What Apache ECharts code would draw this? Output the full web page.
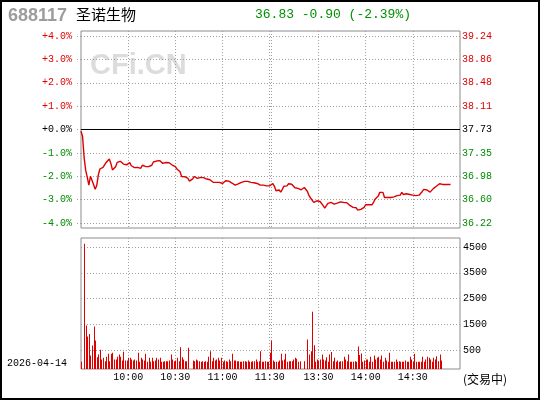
<!DOCTYPE html>
<html><head><meta charset="utf-8">
<script src="https://cdn.jsdelivr.net/npm/echarts@6/dist/echarts.min.js"></script>
<style>html,body{margin:0;padding:0;background:#fff}#c{width:540px;height:400px}</style>
</head><body><div id="c"></div>
<script>
const stockCode = '688117';
const stockName = '圣诺生物';
const quoteText = '36.83 -0.90 (-2.39%)';
const dateText = '2026-04-14';
const statusText = '(交易中)';
const watermark = 'CFi.CN';

const pctTicks = [-4, -3, -2, -1, 0, 1, 2, 3, 4];
const pctLabels = ['-4.0%', '-3.0%', '-2.0%', '-1.0%', '+0.0%', '+1.0%', '+2.0%', '+3.0%', '+4.0%'];
const priceLabels = ['36.22', '36.60', '36.98', '37.35', '37.73', '38.11', '38.48', '38.86', '39.24'];
const volTicks = [500, 1500, 2500, 3500, 4500];
const volLabels = ['500', '1500', '2500', '3500', '4500'];
const timeLabelIdx = [30, 60, 90, 120, 151, 181, 211];
const timeLabelTxt = ['10:00', '10:30', '11:00', '11:30', '13:30', '14:00', '14:30'];
const gridLineIdx = [30, 60, 90, 120, 121, 151, 181, 211];

// minute categories 09:30-11:30, 13:00-15:00
const times = [];
function pushRange(h0, m0, h1, m1) {
  for (let t = h0 * 60 + m0; t <= h1 * 60 + m1; t++) {
    const h = Math.floor(t / 60), m = t % 60;
    times.push((h < 10 ? '0' : '') + h + ':' + (m < 10 ? '0' : '') + m);
  }
}
pushRange(9, 30, 11, 30);
pushRange(13, 0, 15, 0);

// percent change vs previous close, per minute
const pricePct = [
 -0.07,-0.30,-1.20,-1.75,-2.05,-2.38,-2.00,-2.00,-2.35,-2.56,
 -2.40,-1.95,-1.69,-1.72,-1.62,-1.62,-1.41,-1.39,-1.26,-1.45,
 -1.73,-1.79,-1.59,-1.41,-1.36,-1.36,-1.38,-1.48,-1.56,-1.51,
 -1.48,-1.42,-1.55,-1.59,-1.63,-1.69,-1.62,-1.58,-1.66,-1.53,
 -1.53,-1.58,-1.63,-1.59,-1.56,-1.53,-1.39,-1.32,-1.35,-1.33,
 -1.33,-1.39,-1.45,-1.38,-1.41,-1.45,-1.42,-1.48,-1.52,-1.55,
 -1.59,-1.69,-1.72,-1.81,-2.01,-2.08,-2.02,-2.08,-2.09,-2.21,
 -2.21,-2.11,-2.01,-2.03,-2.09,-2.02,-2.05,-2.05,-2.06,-2.12,
 -2.12,-2.09,-2.15,-2.22,-2.26,-2.22,-2.26,-2.26,-2.26,-2.28,
 -2.31,-2.28,-2.19,-2.19,-2.21,-2.22,-2.29,-2.33,-2.38,-2.35,
 -2.33,-2.29,-2.26,-2.25,-2.22,-2.18,-2.22,-2.15,-2.26,-2.26,
 -2.28,-2.29,-2.31,-2.33,-2.38,-2.33,-2.38,-2.41,-2.41,-2.41,
 -2.41,-2.36,-2.31,-2.43,-2.62,-2.61,-2.59,-2.68,-2.56,-2.43,
 -2.43,-2.41,-2.32,-2.31,-2.34,-2.42,-2.49,-2.52,-2.52,-2.56,
 -2.58,-2.56,-2.48,-2.52,-2.65,-2.83,-2.93,-2.98,-3.12,-3.08,
 -3.05,-2.99,-3.08,-3.12,-3.26,-3.36,-3.29,-3.16,-3.12,-3.12,
 -3.20,-3.19,-3.13,-3.15,-3.16,-3.10,-3.12,-3.12,-3.15,-3.13,
 -3.15,-3.25,-3.33,-3.33,-3.33,-3.35,-3.45,-3.53,-3.42,-3.36,
 -3.33,-3.22,-3.22,-3.22,-3.22,-3.22,-3.12,-2.98,-2.91,-2.85,
 -2.69,-2.69,-2.69,-2.91,-2.93,-2.91,-2.93,-2.91,-2.85,-2.88,
 -2.83,-2.83,-2.81,-2.81,-2.69,-2.78,-2.83,-2.75,-2.73,-2.78,
 -2.81,-2.81,-2.83,-2.83,-2.82,-2.81,-2.73,-2.65,-2.56,-2.59,
 -2.59,-2.62,-2.68,-2.61,-2.53,-2.46,-2.43,-2.38,-2.32,-2.34,
 -2.35,-2.35,-2.35,-2.35,-2.35,-2.35
];

// volume per minute (hands)
const volume = [
 50,0,4628,1455,1029,1132,294,681,1416,874,
 229,332,513,139,203,74,242,358,74,358,
 397,139,139,242,332,242,100,436,100,100,
 203,203,139,100,139,100,397,50,203,139,
 100,358,50,203,50,203,74,100,203,139,
 203,50,50,74,74,74,100,332,139,74,
 100,203,74,616,229,139,74,74,590,0,
 0,100,74,139,100,74,50,74,50,74,
 50,242,461,74,203,100,139,203,100,203,
 50,100,74,50,139,74,358,100,100,74,
 74,50,50,74,74,50,100,50,50,74,
 74,139,50,74,461,50,50,74,50,50,
 400,866,100,50,50,50,100,358,100,139,
 358,50,74,74,74,139,203,165,50,74,
 0,0,74,0,916,336,461,1986,690,50,
 139,100,139,336,139,100,230,50,336,426,
 74,203,50,100,50,74,74,242,139,74,
 336,50,50,50,74,50,639,310,374,50,
 100,139,139,50,242,50,294,139,203,242,
 139,294,50,203,100,50,397,50,50,50,
 139,50,74,50,50,50,100,50,50,242,
 139,50,358,50,50,50,50,242,50,139,
 242,203,139,50,203,139,268,74,332,100
];

const volMin = -230, volMax = 4850;
const pctRange = 4.214;

const MONO = '"Liberation Mono", "DejaVu Sans Mono", monospace';
const dotted = { color: '#a0a0a0', type: [1, 2], width: 1 };
const isGridLine = (i) => gridLineIdx.indexOf(i) >= 0;

function pctRich(v, txt) {
  const k = v > 0.001 ? 'u' : (v < -0.001 ? 'd' : 'z');
  return '{' + k + '|' + txt + '}';
}
const richStyle = {
  u: { color: '#e00000', fontFamily: MONO, fontSize: 10 },
  d: { color: '#008c00', fontFamily: MONO, fontSize: 10 },
  z: { color: '#000000', fontFamily: MONO, fontSize: 10 }
};

const chart = echarts.init(document.getElementById('c'), null, { renderer: 'canvas' });
chart.setOption({
  animation: false,
  backgroundColor: '#fff',
  grid: [
    { left: 81, right: 80, top: 31, height: 197, show: true, borderColor: '#8c8c8c', borderWidth: 1 },
    { left: 81, right: 80, top: 238, height: 131, show: true, borderColor: '#8c8c8c', borderWidth: 1 }
  ],
  xAxis: [
    { type: 'category', gridIndex: 0, data: times, boundaryGap: false,
      axisLine: { show: false }, axisTick: { show: false }, axisLabel: { show: false },
      splitLine: { show: true, interval: isGridLine, lineStyle: dotted } },
    { type: 'category', gridIndex: 1, data: times, boundaryGap: false,
      axisLine: { show: false }, axisTick: { show: false },
      axisLabel: { show: true, interval: (i) => timeLabelIdx.indexOf(i) >= 0,
        formatter: (v, i) => { const k = timeLabelIdx.indexOf(i); return k >= 0 ? timeLabelTxt[k] : ''; },
        color: '#000', fontFamily: MONO, fontSize: 10, margin: 3 },
      splitLine: { show: true, interval: isGridLine, lineStyle: dotted } }
  ],
  yAxis: [
    { type: 'value', gridIndex: 0, position: 'left', min: -pctRange, max: pctRange,
      axisLine: { show: false },
      axisTick: { show: true, customValues: pctTicks, length: 5, lineStyle: dotted },
      axisLabel: { customValues: pctTicks, margin: 9,
        formatter: (v) => pctRich(v, pctLabels[pctTicks.indexOf(Math.round(v))]), rich: richStyle },
      splitLine: { show: true, lineStyle: dotted } },
    { type: 'value', gridIndex: 0, position: 'right', min: -pctRange, max: pctRange,
      axisLine: { show: false },
      axisTick: { show: false, customValues: pctTicks },
      axisLabel: { customValues: pctTicks, margin: 2,
        formatter: (v) => pctRich(v, priceLabels[pctTicks.indexOf(Math.round(v))]), rich: richStyle },
      splitLine: { show: false } },
    { type: 'value', gridIndex: 1, position: 'right', min: volMin, max: volMax,
      axisLine: { show: false },
      axisTick: { show: false, customValues: volTicks },
      axisLabel: { customValues: volTicks, margin: 3, color: '#000', fontFamily: MONO, fontSize: 10,
        formatter: (v) => { const k = volTicks.indexOf(Math.round(v)); return k >= 0 ? volLabels[k] : ''; } },
      splitLine: { show: true, lineStyle: dotted } }
  ],
  series: [
    { type: 'line', xAxisIndex: 0, yAxisIndex: 0, data: pricePct, showSymbol: false, symbol: 'none',
      lineStyle: { color: '#dd0000', width: 1.4 }, z: 3,
      markLine: { silent: true, symbol: 'none', label: { show: false },
        lineStyle: { color: '#000', type: 'solid', width: 1 }, data: [{ yAxis: 0 }] } },
    { type: 'custom', xAxisIndex: 1, yAxisIndex: 2,
      data: volume.map((v, i) => [i, v]),
      renderItem: function (params, api) {
        const i = api.value(0), v = api.value(1);
        if (!(v > 0)) return null;
        const top = api.coord([i, v]);
        const bot = api.coord([i, volMin]);
        const x = Math.round(top[0]);
        return { type: 'rect', shape: { x: x, y: top[1], width: 1, height: bot[1] - top[1] },
          style: { fill: '#dd0000' } };
      } }
  ],
  graphic: [
    { type: 'rect', shape: { x: 1, y: 1, width: 538, height: 398 }, style: { fill: null, stroke: '#000', lineWidth: 2 }, z: 10 },
    { type: 'text', x: 90, y: 66, style: { text: watermark, fill: '#dcdcdc', font: 'bold 29px "Liberation Sans", Arial, sans-serif', verticalAlign: 'middle' }, z: 0 },
    { type: 'text', x: 8, y: 16, style: { text: stockCode, fill: '#9c9c9c', font: 'bold 18px "Liberation Sans", Arial, sans-serif', verticalAlign: 'middle' } },
    { type: 'text', x: 76, y: 14, style: { text: stockName, fill: '#000', font: '15px "Noto Sans CJK SC", sans-serif', verticalAlign: 'middle' } },
    { type: 'text', x: 255, y: 14.5, style: { text: quoteText, fill: '#009000', font: '13px ' + MONO, verticalAlign: 'middle' } },
    { type: 'text', x: 7, y: 363, style: { text: dateText, fill: '#000', font: '10px ' + MONO, verticalAlign: 'middle' } },
    { type: 'text', x: 463, y: 379, style: { text: statusText, fill: '#000', font: '12px "Noto Sans CJK SC", sans-serif', verticalAlign: 'middle' } }
  ]
});
</script>
</body></html>
